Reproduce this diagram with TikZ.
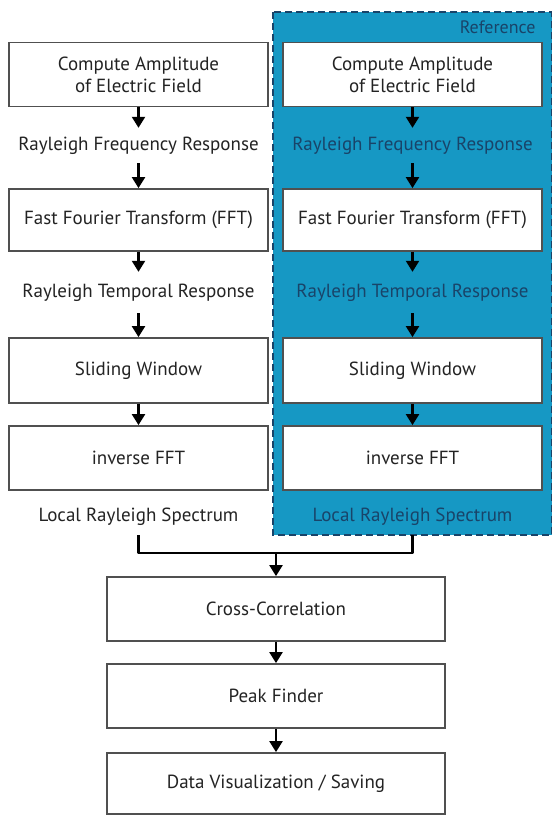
\documentclass[tikz,border=0pt]{standalone}
\usepackage{fontspec}
\setmainfont{PT Sans}
\usetikzlibrary{arrows.meta}
\definecolor{refblue}{RGB}{22,152,196}
\definecolor{refdark}{RGB}{25,68,105}
\definecolor{boxline}{RGB}{80,80,80}
\definecolor{txt}{RGB}{35,35,35}
\tikzset{
  stepbox/.style={draw=boxline, line width=1.8pt, fill=white, minimum height=64pt, inner sep=0pt, text=txt, font=\fontsize{19}{22}\selectfont, align=center},
  colbox/.style={stepbox, minimum width=259pt},
  widebox/.style={stepbox, minimum width=338pt},
  lbl/.style={inner sep=0pt, minimum height=35pt, text=txt, font=\fontsize{19}{22}\selectfont},
  rlbl/.style={lbl, text=refdark},
  arr/.style={line width=2.2pt, -{Triangle[width=13pt,length=11pt]}},
  ln/.style={line width=2.2pt}
}
\begin{document}
\begin{tikzpicture}[x=1pt,y=-1pt]
\useasboundingbox (0,0) rectangle (553,815);
\fill[white] (0,0) rectangle (553,815);
% reference region
\draw[fill=refblue, draw=refdark, line width=1.4pt, dash pattern=on 7pt off 4pt] (273,12) rectangle (551.5,535);
\node[anchor=east, text=refdark, font=\fontsize{18}{20}\selectfont] (reft) at (539,27) {Reference};
% left column
\node[colbox] (a1) at (138.5,74.5) {Compute Amplitude\\of Electric Field};
\node[lbl] (a2) at (138.5,145.5) {Rayleigh Frequency Response};
\node[colbox, minimum height=62pt] (a3) at (138.5,220) {Fast Fourier Transform (FFT)};
\node[lbl, minimum height=41pt] (a4) at (138.5,292.5) {Rayleigh Temporal Response};
\node[colbox, minimum height=65pt] (a5) at (138.5,370.5) {Sliding Window};
\node[colbox] (a6) at (138.5,458) {inverse FFT};
\node[lbl, minimum height=36pt] (a7) at (138.5,517) {Local Rayleigh Spectrum};
% right column
\node[colbox] (b1) at (412.5,74.5) {Compute Amplitude\\of Electric Field};
\node[rlbl] (b2) at (412.5,145.5) {Rayleigh Frequency Response};
\node[colbox, minimum height=62pt] (b3) at (412.5,220) {Fast Fourier Transform (FFT)};
\node[rlbl, minimum height=41pt] (b4) at (412.5,292.5) {Rayleigh Temporal Response};
\node[colbox, minimum height=65pt] (b5) at (412.5,370.5) {Sliding Window};
\node[colbox] (b6) at (412.5,458) {inverse FFT};
\node[rlbl, minimum height=36pt] (b7) at (412.5,517) {Local Rayleigh Spectrum};
% bottom
\node[widebox] (c1) at (276,609) {Cross-Correlation};
\node[widebox] (c2) at (276,696) {Peak Finder};
\node[widebox, minimum height=61pt] (c3) at (276,783.5) {Data Visualization / Saving};
% arrows
\foreach \p in {a,b}{
  \draw[arr] (\p1) -- (\p2);
  \draw[arr] (\p2) -- (\p3);
  \draw[arr] (\p3) -- (\p4);
  \draw[arr] (\p4) -- (\p5);
  \draw[arr] (\p5) -- (\p6);
}
\coordinate (j) at (276,553);
\draw[ln, line join=round] (a7.south) |- (j) -| (b7.south);
\draw[arr] (j) -- (c1);
\draw[arr] (c1) -- (c2);
\draw[arr] (c2) -- (c3);
\end{tikzpicture}
\end{document}
